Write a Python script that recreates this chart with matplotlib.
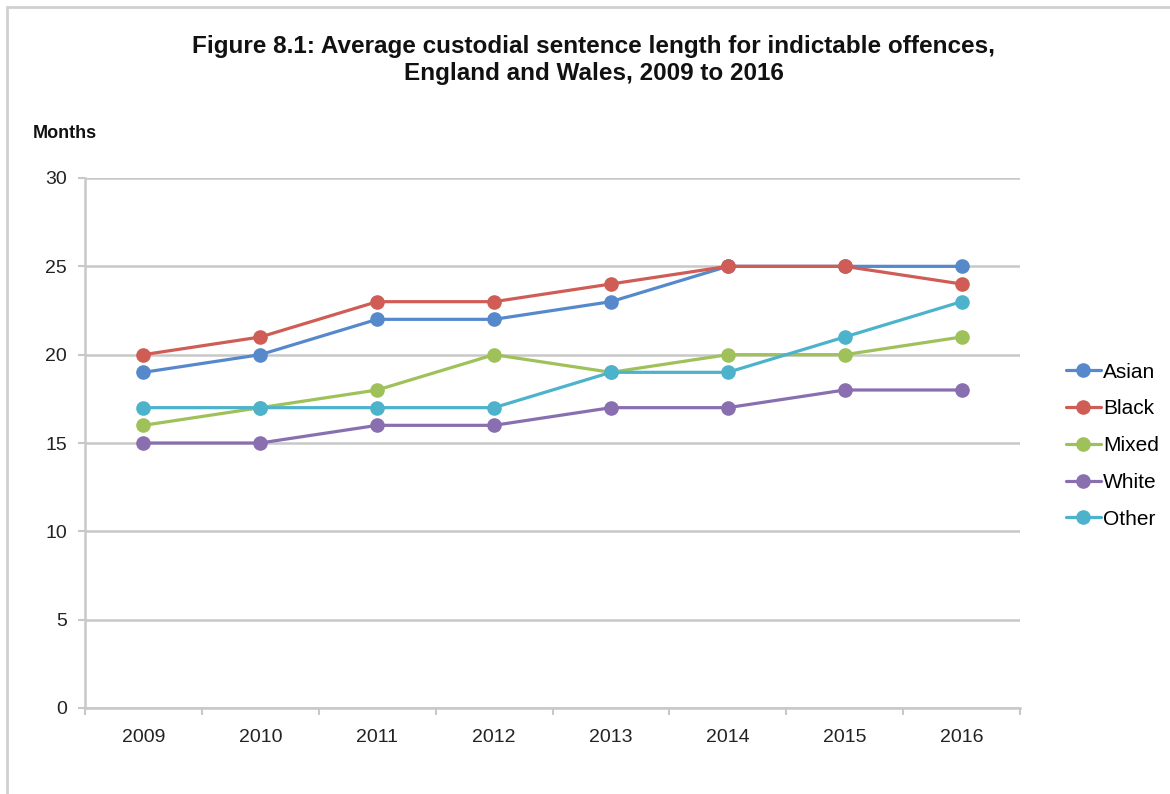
import matplotlib

matplotlib.use("Agg")
import matplotlib.pyplot as plt
from matplotlib.patches import Rectangle

plt.rcParams["font.family"] = ["Liberation Sans", "DejaVu Sans"]

years = ["2009", "2010", "2011", "2012", "2013", "2014", "2015", "2016"]
asian = [19, 20, 22, 22, 23, 25, 25, 25]
black = [20, 21, 23, 23, 24, 25, 25, 24]
mixed = [16, 17, 18, 20, 19, 20, 20, 21]
white = [15, 15, 16, 16, 17, 17, 18, 18]
other = [17, 17, 17, 17, 19, 19, 21, 23]

series = [
    ("Asian", asian, "#5689cc"),
    ("Black", black, "#cf5d56"),
    ("Mixed", mixed, "#9fc15a"),
    ("White", white, "#8a6fb0"),
    ("Other", other, "#4db3cc"),
]

W, H = 1170, 794
fig = plt.figure(figsize=(W / 100, H / 100), dpi=100)

# light frame around the chart (runs off right and bottom)
fig.patches.append(
    Rectangle((7 / W, -0.1), 1.2, 1 - 7 / H + 0.1, transform=fig.transFigure,
              fill=False, edgecolor="#d0d0d0", linewidth=2)
)

ax = fig.add_axes([85 / W, 1 - 708 / H, (1020 - 85) / W, (708 - 178) / H])
x = list(range(len(years)))
for name, vals, col in series:
    ax.plot(x, vals, color=col, lw=2.3, marker="o", ms=9.5, label=name,
            solid_capstyle="round", clip_on=False)

ax.set_xlim(-0.5, len(years) - 0.5)
ax.set_ylim(0, 30)
ax.set_yticks(range(0, 31, 5))
ax.set_xticks(x)
ax.set_xticklabels(years)
ax.set_xticks([i - 0.5 for i in range(len(years) + 1)], minor=True)
ax.tick_params(axis="x", which="major", length=0, pad=15, labelsize=14, colors="#222222")
ax.tick_params(axis="x", which="minor", length=5, width=1.5, color="#c8c8c8")
ax.tick_params(axis="y", length=5, width=1.5, color="#c8c8c8", pad=8,
               labelsize=14, labelcolor="#222222")

ax.grid(axis="y", color="#c8c8c8", lw=1.8)
ax.set_axisbelow(True)
for s in ["top", "right"]:
    ax.spines[s].set_visible(False)
for s in ["left", "bottom"]:
    ax.spines[s].set_color("#c8c8c8")
    ax.spines[s].set_linewidth(1.8)

fig.text(594 / W, 1 - 60 / H,
         "Figure 8.1: Average custodial sentence length for indictable offences,\n"
         "England and Wales, 2009 to 2016",
         ha="center", va="center", fontsize=17.5, fontweight="bold",
         linespacing=1.2, color="#111111")
fig.text(33 / W, 1 - 133 / H, "Months", ha="left", va="center",
         fontsize=13, fontweight="bold", color="#111111")

ax.legend(loc="center left", bbox_to_anchor=(1.04, 0.495), frameon=False,
          fontsize=15, handlelength=1.7, handletextpad=0.1, labelspacing=0.85,
          borderaxespad=0)

fig.savefig("out.png", dpi=100)
